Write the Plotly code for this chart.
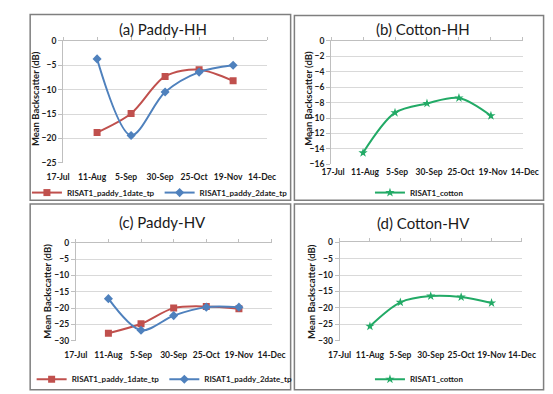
import plotly.graph_objects as go

# ---------------- data ----------------
dates = ["2012-08-11", "2012-09-05", "2012-09-30", "2012-10-25", "2012-11-19"]
tick_dates = ["2012-07-17", "2012-08-11", "2012-09-05", "2012-09-30",
              "2012-10-25", "2012-11-19", "2012-12-14"]
tick_labels = ["17-Jul", "11-Aug", "5-Sep", "30-Sep", "25-Oct", "19-Nov", "14-Dec"]

paddy_hh_1date = [-18.8, -14.9, -7.3, -5.9, -8.2]
paddy_hh_2date = [-3.7, -19.4, -10.5, -6.4, -5.0]
cotton_hh = [-14.5, -9.3, -8.1, -7.4, -9.7]
paddy_hv_1date = [-27.7, -24.8, -20.0, -19.5, -20.2]
paddy_hv_2date = [-17.1, -26.8, -22.3, -19.7, -19.7]
cotton_hv = [-25.6, -18.3, -16.4, -16.7, -18.5]

titles = ["(a) Paddy-HH", "(b) Cotton-HH", "(c) Paddy-HV", "(d) Cotton-HV"]
name_1date = "RISAT1_paddy_1date_tp"
name_2date = "RISAT1_paddy_2date_tp"
name_cotton = "RISAT1_cotton"

# ---------------- layout helpers ----------------
W, H = 553, 394
def px(x):
    return x / W
def py(y):
    return 1 - y / H

RED = "#C0504D"
BLUE = "#4F81BD"
GREEN = "#22AA66"
FONT = "Lato"

fig = go.Figure()

def line(x, y, name, color, symbol, size, xa, ya, legend):
    fig.add_trace(go.Scatter(
        x=x, y=y, name=name, mode="lines+markers",
        line=dict(color=color, width=2, shape="spline", smoothing=0.9),
        marker=dict(symbol=symbol, size=size, color=color),
        xaxis=xa, yaxis=ya, legend=legend, showlegend=True))

line(dates, paddy_hh_1date, name_1date, RED, "square", 7, "x", "y", "legend")
line(dates, paddy_hh_2date, name_2date, BLUE, "diamond", 7, "x", "y", "legend")
line(dates, cotton_hh, name_cotton, GREEN, "star", 7, "x2", "y2", "legend2")
line(dates, paddy_hv_1date, name_1date, RED, "square", 7, "x3", "y3", "legend3")
line(dates, paddy_hv_2date, name_2date, BLUE, "diamond", 7, "x3", "y3", "legend3")
line(dates, cotton_hv, name_cotton, GREEN, "star", 7, "x4", "y4", "legend4")

# panel geometry in pixels: (x0, x1, ytop, ybottom, yrange, dtick, standoff, shift)
panels = [
    (49, 266, 37.3, 164.0, [-25, 0], 5, 8, -5),
    (334, 538, 37.3, 165.7, [-16, 0], 2, 1, 2),
    (62.5, 270.7, 247.3, 349.0, [-30, 0], 5, 8, 0),
    (343, 537, 246.7, 349.0, [-30, 0], 5, 8, 0),
]

tickfont = dict(family=FONT, size=8.5, color="#1a1a1a", weight=700)
for i, (x0, x1, yt, yb, yr, dt, so, sh) in enumerate(panels):
    n = "" if i == 0 else str(i + 1)
    xr = [tick_dates[0], tick_dates[-1]]
    fig.layout["xaxis" + n] = dict(
        domain=[px(x0), px(x1)], anchor="y" + n,
        type="date", range=xr, tickangle=0,
        tickmode="array", tickvals=tick_dates, ticktext=tick_labels,
        showgrid=False, zeroline=False, showline=False, ticks="",
        tickfont=tickfont, ticklabelstandoff=so, ticklabelshift=sh,
        fixedrange=True)
    # top axis (Excel x-axis crossing at 0) with tick marks
    fig.layout["xaxis" + str(i + 5)] = dict(
        overlaying="x" + n, anchor="y" + n, side="top", type="date", range=xr,
        tickmode="array", tickvals=tick_dates, showticklabels=False,
        showgrid=False, zeroline=False, showline=True, linecolor="#BFBFBF",
        ticks="outside", ticklen=3, tickcolor="#BFBFBF")
    fig.layout["yaxis" + n] = dict(
        domain=[py(yb), py(yt)], anchor="x" + n, range=yr, dtick=dt,
        showgrid=True, gridcolor="#D9D9D9", gridwidth=1, zeroline=False,
        showline=True, linecolor="#BFBFBF", ticks="outside", ticklen=4,
        tickcolor="#BFBFBF", tickfont=tickfont, fixedrange=True)

# invisible traces to activate the top axes
for i in range(4):
    n = "" if i == 0 else str(i + 1)
    fig.add_trace(go.Scatter(x=[tick_dates[0]], y=[None], xaxis="x" + str(i + 5),
                             yaxis="y" + n, showlegend=False, hoverinfo="skip"))

annotations = []
title_pos = [(155, 25), (432, 25), (155, 226), (432, 227)]
for t, (x, y) in zip(titles, title_pos):
    annotations.append(dict(text=t, x=px(x), y=py(y), xref="paper", yref="paper",
                            showarrow=False, xanchor="center", yanchor="middle",
                            font=dict(family=FONT, size=15, color="#1a1a1a")))
ytitle_pos = [(20, 97), (310, 97), (33, 298), (313, 298)]
for (x, y) in ytitle_pos:
    annotations.append(dict(text="Mean Backscatter (dB)", x=px(x), y=py(y),
                            xref="paper", yref="paper", showarrow=False,
                            textangle=-90, xanchor="center", yanchor="middle",
                            font=dict(family=FONT, size=9.5, color="#1a1a1a",
                                      weight=700)))

legfont = dict(family=FONT, size=8, color="#1a1a1a", weight=700)
leg_pos = [(152, 195), (428, 195), (157, 389), (428, 389)]
for i, (x, y) in enumerate(leg_pos):
    key = "legend" if i == 0 else "legend" + str(i + 1)
    fig.layout[key] = dict(orientation="h", x=px(x), y=py(y), xanchor="center",
                           yanchor="middle", bgcolor="rgba(0,0,0,0)",
                           font=legfont, itemwidth=30, tracegroupgap=0)

shapes = []
boxes = [(14, 10, 291, 203), (295, 11, 560, 203), (14, 207, 291, 400), (295, 207, 560, 400)]
for (x0, y0, x1, y1) in boxes:
    shapes.append(dict(type="rect", xref="paper", yref="paper",
                       x0=px(x0), x1=px(x1), y0=py(y1), y1=py(y0),
                       line=dict(color="#7F7F7F", width=1.5), layer="below"))

fig.update_layout(
    width=W, height=H, margin=dict(l=0, r=0, t=0, b=0),
    paper_bgcolor="white", plot_bgcolor="white",
    annotations=annotations, shapes=shapes,
)

fig.write_html("out.html", config={"displayModeBar": False},
               post_script="document.body.style.margin='0';"
                           "document.body.style.overflow='hidden';")
